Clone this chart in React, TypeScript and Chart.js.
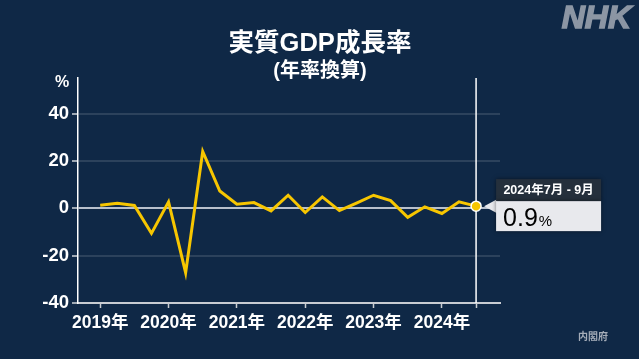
import React, { useEffect, useRef } from "react";
import { Chart, registerables } from "chart.js";

Chart.register(...registerables);

// ---- data ----
const years = ["2019年", "2020年", "2021年", "2022年", "2023年", "2024年"];
const growth = [
  1.3, 2.1, 1.2, -10.6, 2.7, -27.2, 24.0, 7.3, 1.7, 2.4, -1.1, 5.5, -1.8, 4.8,
  -1.0, 2.2, 5.5, 3.2, -3.8, 0.6, -2.2, 2.7, 0.9,
];
const yTicks = [-40, -20, 0, 20, 40];
const titleText = "実質GDP成長率";
const subtitleText = "(年率換算)";
const latestLabel = "2024年7月 - 9月";
const latestValue = "0.9";
const sourceText = "内閣府";

const FONT = "'Liberation Sans', 'Noto Sans CJK JP', sans-serif";
const BG = "#0f2846";
const YELLOW = "#f7c600";

export default function App() {
  const ref = useRef<HTMLCanvasElement | null>(null);

  useEffect(() => {
    document.body.style.margin = "0";
    document.body.style.background = BG;
    const canvas = ref.current!;
    const last = growth.length - 1;
    const points = growth.map((v, i) => ({ x: i, y: v }));
    const xTickVals = [...years.map((_, k) => k * 4), last];

    const deco = {
      id: "deco",
      beforeDraw(chart: any) {
        const c = chart.ctx;
        c.save();
        c.fillStyle = BG;
        c.fillRect(0, 0, chart.width, chart.height);
        c.restore();
      },
      beforeDatasetsDraw(chart: any) {
        const c = chart.ctx;
        const xs = chart.scales.x;
        const px = xs.getPixelForValue(last);
        c.save();
        c.strokeStyle = "#ffffff";
        c.lineWidth = 1.5;
        c.beginPath();
        c.moveTo(px, chart.chartArea.top);
        c.lineTo(px, chart.chartArea.bottom);
        c.stroke();
        c.restore();
      },
      afterDraw(chart: any) {
        const c = chart.ctx;
        c.save();
        // title
        c.fillStyle = "#ffffff";
        c.textAlign = "center";
        c.textBaseline = "middle";
        c.font = `bold 25.5px ${FONT}`;
        c.fillText(titleText, 320, 44);
        c.font = `bold 20px ${FONT}`;
        c.fillText(subtitleText, 320, 71);
        // percent
        c.font = `bold 16px ${FONT}`;
        c.fillText("%", 62, 83);
        // NHK logo
        c.fillStyle = "#8c96a4";
        c.strokeStyle = "#8c96a4";
        c.lineWidth = 1.5;
        c.font = `italic bold 32px ${FONT}`;
        c.textAlign = "right";
        c.textBaseline = "alphabetic";
        c.fillText("NHK", 631, 28);
        c.strokeText("NHK", 631, 28);
        // source
        c.fillStyle = "#a4acb8";
        c.font = `bold 10px ${FONT}`;
        c.textAlign = "center";
        c.textBaseline = "middle";
        c.fillText(sourceText, 593, 337);

        // tooltip
        const pt = chart.getDatasetMeta(0).data[last];
        const px = pt.x;
        const py = pt.y;
        const x0 = px + 20;
        const x1 = px + 125;
        const hy0 = py - 27;
        const hy1 = py - 5;
        const by1 = py + 25;
        c.fillStyle = "#e8e9ed";
        c.beginPath();
        c.moveTo(px + 8, py);
        c.lineTo(x0 + 1, py - 7);
        c.lineTo(x0 + 1, py + 7);
        c.closePath();
        c.fill();
        c.shadowColor = "rgba(0,0,0,0.5)";
        c.shadowBlur = 4;
        c.fillStyle = "#25303c";
        c.fillRect(x0, hy0, x1 - x0, hy1 - hy0);
        c.fillStyle = "#e8e9ed";
        c.fillRect(x0, hy1, x1 - x0, by1 - hy1);
        c.shadowBlur = 0;
        c.shadowColor = "transparent";
        c.fillStyle = "#ffffff";
        c.font = `bold 12.5px ${FONT}`;
        c.textAlign = "center";
        c.textBaseline = "middle";
        c.fillText(latestLabel, (x0 + x1) / 2, (hy0 + hy1) / 2 + 0.5);
        c.fillStyle = "#000000";
        c.textAlign = "left";
        c.textBaseline = "alphabetic";
        c.font = `25px ${FONT}`;
        c.fillText(latestValue, x0 + 7, py + 20);
        const w = c.measureText(latestValue).width;
        c.font = `15px ${FONT}`;
        c.fillText("%", x0 + 7 + w + 1, py + 20);
        c.restore();
      },
    };

    const chart = new Chart(canvas, {
      type: "line",
      data: {
        datasets: [
          {
            data: points,
            borderColor: YELLOW,
            borderWidth: 3,
            tension: 0,
            clip: false,
            pointRadius: (ctx: any) => (ctx.dataIndex === last ? 5 : 0),
            pointHoverRadius: 0,
            pointBackgroundColor: YELLOW,
            pointBorderColor: "#ffffff",
            pointBorderWidth: 1.5,
          } as any,
        ],
      },
      options: {
        animation: false,
        responsive: false,
        devicePixelRatio: 1,
        layout: { padding: { left: 8, right: 139, top: 78, bottom: 11 } },
        plugins: {
          legend: { display: false },
          tooltip: { enabled: false },
          title: { display: false },
        },
        scales: {
          x: {
            type: "linear",
            min: -1.3,
            max: 23.4,
            afterBuildTicks: (s: any) => {
              s.ticks = xTickVals.map((v) => ({ value: v }));
            },
            afterFit: (s: any) => {
              s.height = 45;
            },
            ticks: {
              autoSkip: false,
              maxRotation: 0,
              padding: 5,
              color: "#ffffff",
              font: { family: FONT, size: 17.5, weight: "bold" },
              callback: (v: any) => {
                const i = Number(v);
                return i % 4 === 0 && i / 4 < years.length ? years[i / 4] : "";
              },
            },
            grid: {
              display: true,
              drawOnChartArea: false,
              drawTicks: true,
              tickLength: 5,
              tickColor: "#c8ccd2",
              tickWidth: 1.5,
            },
            border: { display: true, color: "#c8ccd2", width: 2 },
          },
          y: {
            min: -40,
            max: 55,
            afterBuildTicks: (s: any) => {
              s.ticks = yTicks.map((v) => ({ value: v }));
            },
            afterFit: (s: any) => {
              s.width = 70;
            },
            ticks: {
              padding: 3,
              color: "#ffffff",
              font: { family: FONT, size: 18.5, weight: "bold" },
            },
            grid: {
              drawTicks: true,
              tickLength: 6,
              tickColor: "#d0d4da",
              tickWidth: 1.5,
              lineWidth: 2,
              color: (ctx: any) =>
                ctx.tick && ctx.tick.value === 0
                  ? "#b8c0cc"
                  : "rgba(255,255,255,0.12)",
            },
            border: { display: true, color: "#ffffff", width: 1.5 },
          },
        },
      },
      plugins: [deco],
    });
    return () => chart.destroy();
  }, []);

  return (
    <div style={{ width: 639, height: 359 }}>
      <canvas ref={ref} width={639} height={359} style={{ display: "block" }} />
    </div>
  );
}
